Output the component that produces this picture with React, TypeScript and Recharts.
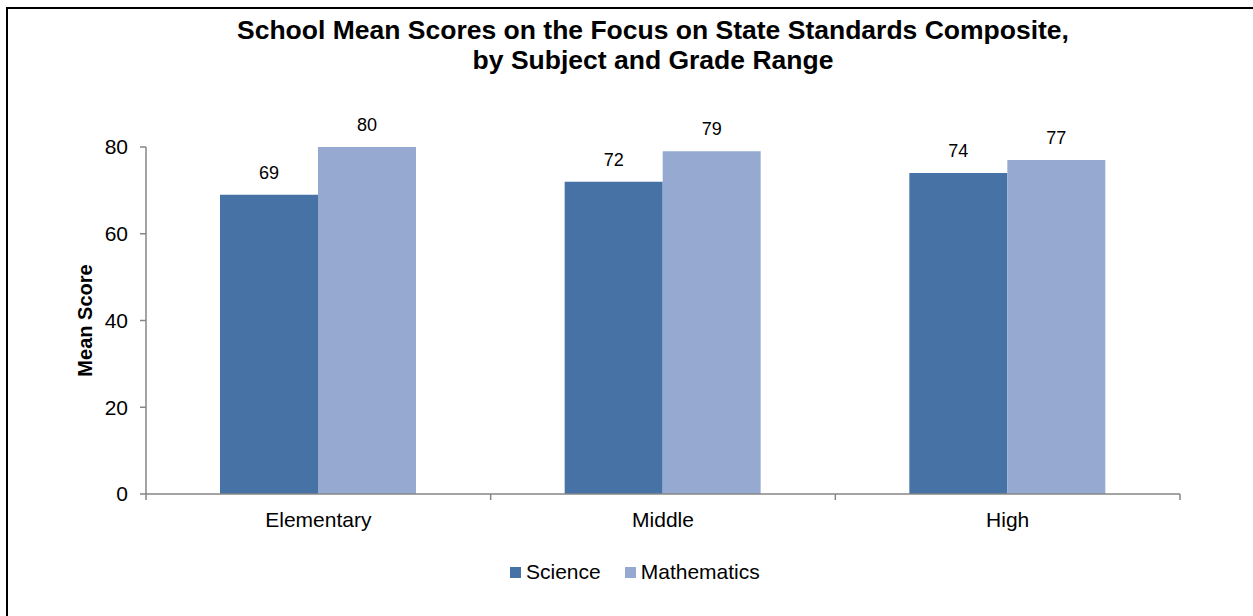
import { Bar, BarChart, LabelList, Legend, XAxis, YAxis } from 'recharts'

const categories = ['Elementary', 'Middle', 'High']
const science = [69, 72, 74]
const mathematics = [80, 79, 77]
const yTicks = [0, 20, 40, 60, 80]

const data = categories.map((category, i) => ({
  category,
  science: science[i],
  mathematics: mathematics[i],
}))

const FONT = '"Liberation Sans", Arial, sans-serif'
const AXIS = '#868686'
const SCIENCE = '#4672A6'
const MATH = '#95A9D1'

const W = 1253
const H = 616
const PLOT_LEFT = 146
const PLOT_RIGHT = 1180
const BAND = (PLOT_RIGHT - PLOT_LEFT) / categories.length

// Excel style: category label centred, tick marks between categories
function CategoryTick(props: any) {
  const { x, y, payload, index } = props
  const axisY = y
  return (
    <g>
      <line x1={x - BAND / 2} x2={x - BAND / 2} y1={axisY} y2={axisY + 6} stroke={AXIS} strokeWidth={1.5} />
      {index === categories.length - 1 && (
        <line x1={x + BAND / 2} x2={x + BAND / 2} y1={axisY} y2={axisY + 6} stroke={AXIS} strokeWidth={1.5} />
      )}
      <text x={x} y={axisY + 26} dy="0.355em" textAnchor="middle" fontSize={21} fill="#000" fontFamily={FONT}>
        {payload.value}
      </text>
    </g>
  )
}

function LegendBox() {
  const items = [
    { name: 'Science', color: SCIENCE },
    { name: 'Mathematics', color: MATH },
  ]
  return (
    <div style={{ display: 'flex', height: 24, alignItems: 'center', fontFamily: FONT, fontSize: 21 }}>
      {items.map((it) => (
        <div key={it.name} style={{ display: 'flex', alignItems: 'center', marginRight: 24 }}>
          <span style={{ width: 11, height: 11, background: it.color, marginRight: 5, display: 'inline-block' }} />
          <span>{it.name}</span>
        </div>
      ))}
    </div>
  )
}

export default function App() {
  return (
    <div style={{ position: 'fixed', left: 0, top: 0, width: W, height: H, overflow: 'hidden', background: '#fff' }}>
      <div
        style={{
          position: 'absolute',
          left: 6,
          top: 7,
          width: W + 40,
          height: H + 40,
          border: '2px solid #000',
        }}
      />
      <div
        style={{
          position: 'absolute',
          left: 0,
          top: 15,
          width: 1306,
          textAlign: 'center',
          fontFamily: FONT,
          fontWeight: 'bold',
          fontSize: 26.5,
          lineHeight: '30px',
          color: '#000',
        }}
      >
        School Mean Scores on the Focus on State Standards Composite,
        <br />
        by Subject and Grade Range
      </div>
      <div style={{ position: 'absolute', left: 0, top: 0 }}>
        <BarChart
          width={W}
          height={H}
          data={data}
          margin={{ top: 147, right: W - PLOT_RIGHT, left: 0, bottom: 68 }}
          barGap={0}
        >
          <YAxis
            width={PLOT_LEFT}
            domain={[0, 80]}
            ticks={yTicks}
            interval={0}
            tickSize={6}
            tickMargin={12}
            axisLine={{ stroke: AXIS, strokeWidth: 1.5 }}
            tickLine={{ stroke: AXIS, strokeWidth: 1.5 }}
            tick={{ fontSize: 21, fill: '#000', fontFamily: FONT }}
            label={{
              value: 'Mean Score',
              angle: -90,
              position: 'insideLeft',
              offset: 85,
              style: { textAnchor: 'middle', fontSize: 20, fontWeight: 'bold', fill: '#000', fontFamily: FONT },
            }}
          />
          <XAxis
            dataKey="category"
            height={30}
            tickLine={false}
            tickSize={0}
            tickMargin={0}
            interval={0}
            axisLine={{ stroke: AXIS, strokeWidth: 1.5 }}
            tick={(p: any) => <CategoryTick {...p} />}
          />
          <Legend
            verticalAlign="bottom"
            content={() => <LegendBox />}
            wrapperStyle={{ top: 560, left: 510, width: 300 }}
          />
          <Bar dataKey="science" name="Science" fill={SCIENCE} barSize={98} isAnimationActive={false}>
            <LabelList dataKey="science" position="top" offset={16} fontSize={18} fill="#000" fontFamily={FONT} />
          </Bar>
          <Bar dataKey="mathematics" name="Mathematics" fill={MATH} barSize={98} isAnimationActive={false}>
            <LabelList dataKey="mathematics" position="top" offset={16} fontSize={18} fill="#000" fontFamily={FONT} />
          </Bar>
        </BarChart>
      </div>
    </div>
  )
}
